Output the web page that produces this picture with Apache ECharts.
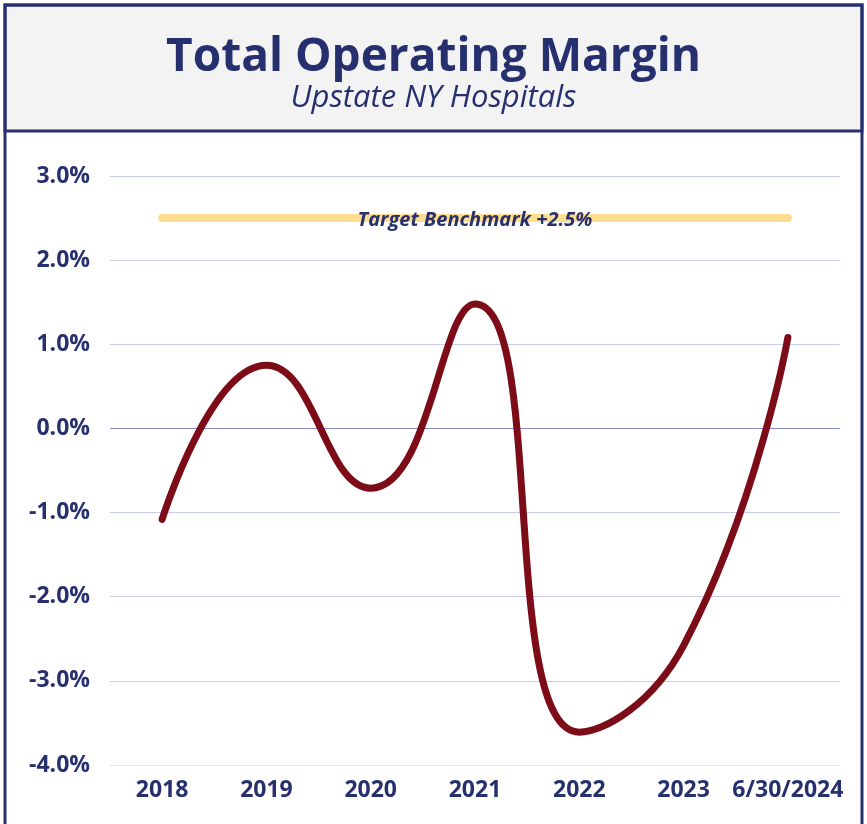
<!DOCTYPE html>
<html>
<head>
<meta charset="utf-8">
<script src="https://cdn.jsdelivr.net/npm/echarts@6/dist/echarts.min.js"></script>
<style>
  html, body { margin: 0; padding: 0; background: #fff; }
  #chart { width: 867px; height: 824px; }
</style>
</head>
<body>
<div id="chart"></div>
<script>
var categories = ['2018', '2019', '2020', '2021', '2022', '2023', '6/30/2024']
var marginValues = [-1.08, 0.75, -0.71, 1.48, -3.61, -2.58, 1.08]
var benchmarkValue = 2.5
var benchmarkLabel = 'Target Benchmark +2.5%'
var yTicks = [-4, -3, -2, -1, 0, 1, 2, 3]

var navy = '#27306f'
var chart = echarts.init(document.getElementById('chart'))

chart.setOption({
  animation: false,
  graphic: [
    {
      type: 'rect',
      shape: { x: 5, y: 5, width: 857, height: 840 },
      style: { fill: 'none', stroke: navy, lineWidth: 3 },
      z: 10
    },
    {
      type: 'rect',
      shape: { x: 5, y: 5, width: 857, height: 126 },
      style: { fill: '#f3f3f3', stroke: navy, lineWidth: 3 },
      z: 1
    }
  ],
  title: {
    text: 'Total Operating Margin',
    subtext: 'Upstate NY Hospitals',
    left: 'center',
    top: 30,
    itemGap: 2,
    textStyle: {
      fontFamily: 'Open Sans',
      fontWeight: 'bold',
      fontSize: 46,
      color: navy
    },
    subtextStyle: {
      fontFamily: 'Open Sans',
      fontStyle: 'italic',
      fontSize: 31,
      color: navy
    },
    z: 5
  },
  grid: {
    left: 110,
    right: 27,
    top: 176,
    bottom: 59,
    containLabel: false
  },
  xAxis: {
    type: 'category',
    data: categories,
    boundaryGap: true,
    axisTick: { show: false },
    axisLine: { show: false },
    axisLabel: {
      margin: 14,
      fontFamily: 'Open Sans',
      fontWeight: 'bold',
      fontSize: 23,
      color: navy,
      interval: 0
    }
  },
  yAxis: {
    type: 'value',
    min: yTicks[0],
    max: yTicks[yTicks.length - 1],
    interval: 1,
    axisLine: { show: false },
    axisTick: { show: false },
    axisLabel: {
      margin: 20,
      fontFamily: 'Open Sans',
      fontWeight: 'bold',
      fontSize: 23,
      color: navy,
      formatter: function (v) { return v.toFixed(1) + '%' }
    },
    splitLine: {
      lineStyle: {
        color: ['#dfe3ea', '#c9cce6', '#c9cce6', '#c9cce6', '#8389c2', '#c9cce6', '#c9cce6', '#c9cce6'],
        width: 1
      }
    }
  },
  series: [
    {
      name: 'Total Operating Margin',
      type: 'line',
      data: marginValues,
      smooth: 0.5,
      symbol: 'none',
      lineStyle: { color: '#7c0c17', width: 7, cap: 'round' },
      z: 3,
      markLine: {
        silent: true,
        symbol: 'none',
        z: 2,
        lineStyle: { color: '#fedc90', width: 8, type: 'solid', cap: 'round' },
        label: {
          show: true,
          position: 'middle',
          formatter: benchmarkLabel,
          distance: -12,
          fontFamily: 'Open Sans',
          fontWeight: 'bold',
          fontStyle: 'italic',
          fontSize: 20,
          color: navy
        },
        data: [[
          { coord: [categories[0], benchmarkValue] },
          { coord: [categories[categories.length - 1], benchmarkValue] }
        ]]
      }
    }
  ]
})
</script>
</body>
</html>
